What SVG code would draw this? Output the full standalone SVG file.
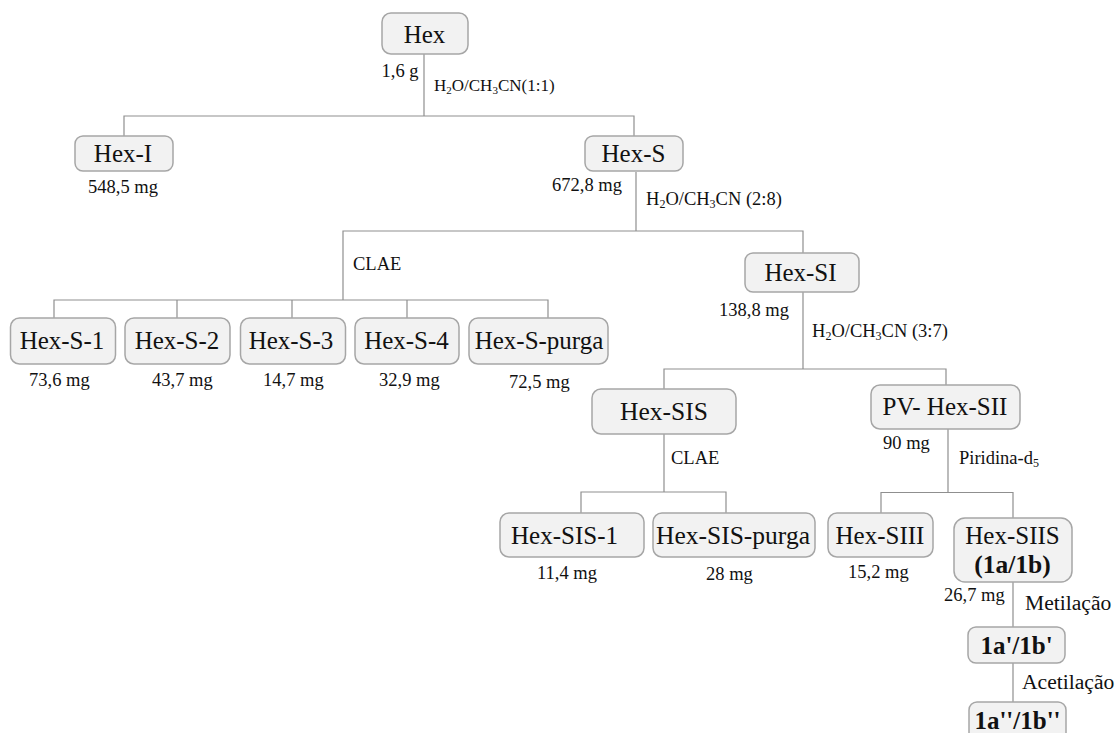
<svg xmlns="http://www.w3.org/2000/svg" width="1116" height="733" viewBox="0 0 1116 733">
<style>
text{font-family:"Liberation Serif","Times New Roman",serif;fill:#111}
.n rect{fill:#f2f2f2;stroke:#a6a6a6;stroke-width:1.5}
.n text{font-size:25px;text-anchor:middle}
.b{font-weight:bold}
.m{font-size:18.500px}
.s{font-size:18.500px}
.u{font-size:12px}
.l{font-size:21.600px}
#c path{fill:none;stroke:#8f8f8f;stroke-width:1.2}
</style>
<rect width="1116" height="733" fill="#fff"/>
<g id="c">
<path d="M424 54V116M124 136V116H634V136"/>
<path d="M636 172V231M343 300V231H803V253"/>
<path d="M54 318V300H548V318M177 300V318M292 300V318M407 300V318"/>
<path d="M803 292V369M664 389V369H946V385"/>
<path d="M664 434V492M581 513V492H726V513"/>
<path d="M948 429V492.500M881 513V492.500H1013V518"/>
<path d="M1013 582V627M1013 663V702"/>
</g>
<g id="hex" class="n"><rect x="382" y="13" width="86" height="41" rx="9"/><text x="424.500" y="42.500">Hex</text></g>
<g id="hex-i" class="n"><rect x="75" y="136" width="98" height="35" rx="8"/><text x="123" y="161.500">Hex-I</text></g>
<g id="hex-s" class="n"><rect x="585" y="136" width="98" height="35" rx="8"/><text x="633.500" y="161.500">Hex-S</text></g>
<g id="hex-si" class="n"><rect x="745" y="253" width="114" height="39" rx="8"/><text x="800.500" y="281">Hex-SI</text></g>
<g id="hex-s-1" class="n"><rect x="10.500" y="318" width="105" height="46" rx="9"/><text x="62" y="349">Hex-S-1</text></g>
<g id="hex-s-2" class="n"><rect x="125" y="318" width="105" height="46" rx="9"/><text x="177" y="349">Hex-S-2</text></g>
<g id="hex-s-3" class="n"><rect x="240.500" y="318" width="105" height="46" rx="9"/><text x="291" y="349">Hex-S-3</text></g>
<g id="hex-s-4" class="n"><rect x="355" y="318" width="104" height="46" rx="9"/><text x="406.500" y="349">Hex-S-4</text></g>
<g id="hex-s-purga" class="n"><rect x="469" y="318" width="139" height="46" rx="9"/><text x="539" y="349">Hex-S-purga</text></g>
<g id="hex-sis" class="n"><rect x="592" y="389" width="144" height="45" rx="9"/><text x="664" y="420" style="font-size:25.500px">Hex-SIS</text></g>
<g id="pv-hex-sii" class="n"><rect x="871" y="385" width="149" height="44" rx="9"/><text x="945" y="414.500">PV- Hex-SII</text></g>
<g id="hex-sis-1" class="n"><rect x="500" y="513" width="144" height="44" rx="9"/><text x="564.500" y="544">Hex-SIS-1</text></g>
<g id="hex-sis-purga" class="n"><rect x="653" y="513" width="162" height="44" rx="9"/><text x="733" y="544" style="font-size:25.500px">Hex-SIS-purga</text></g>
<g id="hex-siii" class="n"><rect x="828" y="513" width="105" height="44" rx="9"/><text x="880" y="543.500">Hex-SIII</text></g>
<g id="hex-siis" class="n"><rect x="954" y="518" width="118" height="64" rx="11"/><text x="1012.500" y="543.500">Hex-SIIS</text><text x="1012.500" y="572.500" class="b" style="font-size:25.500px">(1a/1b)</text></g>
<g id="c1a" class="n"><rect x="968" y="627" width="97" height="36" rx="8"/><text x="1016.500" y="653.500" class="b">1a'/1b'</text></g>
<g id="c1a2" class="n"><rect x="969" y="702" width="97" height="45" rx="8"/><text x="1017.500" y="728.500" class="b">1a''/1b''</text></g>
<g id="labels">
<text class="m" x="381.500" y="77">1,6 g</text>
<text x="434" y="90.500" style="font-size:17px">H<tspan font-size="11" dy="3">2</tspan><tspan dy="-3">O/CH</tspan><tspan font-size="11" dy="3">3</tspan><tspan dy="-3">CN(1:1)</tspan></text>
<text class="m" x="88" y="193">548,5 mg</text>
<text class="m" x="552" y="190.500">672,8 mg</text>
<text class="s" x="646" y="205">H<tspan class="u" dy="3">2</tspan><tspan dy="-3">O/CH</tspan><tspan class="u" dy="3">3</tspan><tspan dy="-3">CN (2:8)</tspan></text>
<text class="s" x="353" y="270">CLAE</text>
<text class="m" x="719" y="316">138,8 mg</text>
<text class="s" x="812" y="337">H<tspan class="u" dy="3">2</tspan><tspan dy="-3">O/CH</tspan><tspan class="u" dy="3">3</tspan><tspan dy="-3">CN (3:7)</tspan></text>
<text class="m" x="29" y="386">73,6 mg</text>
<text class="m" x="152" y="386">43,7 mg</text>
<text class="m" x="263" y="386">14,7 mg</text>
<text class="m" x="379" y="386">32,9 mg</text>
<text class="m" x="509" y="388">72,5 mg</text>
<text class="m" x="883" y="449">90 mg</text>
<text class="s" x="959" y="464">Piridina-d<tspan class="u" dy="3">5</tspan></text>
<text class="s" x="671" y="464">CLAE</text>
<text class="m" x="537" y="579">11,4 mg</text>
<text class="m" x="706" y="580">28 mg</text>
<text class="m" x="848" y="578">15,2 mg</text>
<text class="m" x="944" y="601">26,7 mg</text>
<text class="l" x="1025" y="610">Metilação</text>
<text class="l" x="1022" y="689">Acetilação</text>
</g>
</svg>
